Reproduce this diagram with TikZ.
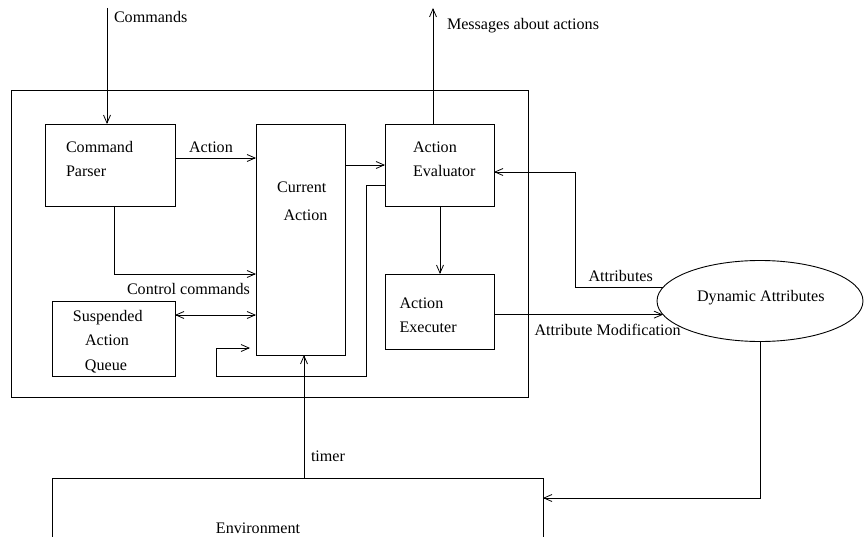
\documentclass[tikz,border=0pt]{standalone}
\usepackage{fontspec}
\setmainfont{Liberation Serif}
\usetikzlibrary{arrows.meta,shapes.geometric,calc}
\begin{document}
\begin{tikzpicture}[x=1pt,y=-1pt,line width=0.9pt,
  box/.style={draw,rectangle,inner sep=0pt,outer sep=0pt},
  lbl/.style={inner sep=0pt,outer sep=0pt,font=\fontsize{16.1}{19}\selectfont},
  arr/.style={-{Straight Barb[length=8pt,width=7pt,line width=0.8pt]}},
  darr/.style={{Straight Barb[length=8pt,width=7pt,line width=0.8pt]}-{Straight Barb[length=8pt,width=7pt,line width=0.8pt]}}]
\useasboundingbox (0,0) rectangle (866,537);
% boxes
\node[box,minimum width=517pt,minimum height=307pt] (outer) at (269.5,243.5) {};
\node[box,minimum width=130pt,minimum height=82pt] (CP) at (110,165) {};
\node[box,minimum width=89pt,minimum height=231pt] (CA) at (300.5,239.5) {};
\node[box,minimum width=109pt,minimum height=82pt] (AE) at (439.5,165) {};
\node[box,minimum width=109pt,minimum height=75pt] (AX) at (439.5,311.5) {};
\node[box,minimum width=123pt,minimum height=75pt] (SQ) at (113.5,338.5) {};
\node[draw,ellipse,inner sep=0pt,outer sep=0pt,minimum width=206pt,minimum height=81pt] (DA) at (760,301) {};
\coordinate (envSW) at (52,537);
\coordinate (envNW) at (52,478);
\coordinate (envNE) at (543,478);
\coordinate (envSE) at (543,537);
\draw (envSW) -- (envNW) -- (envNE) -- (envSE);
% texts
\node[lbl,anchor=base west] (tCmds) at (114,22.5) {Commands};
\node[lbl,anchor=base west] (tMsg) at (447,29.3) {Messages about actions};
\node[lbl,anchor=base west] (tCP1) at (66,152.5) {Command};
\node[lbl,anchor=base west] (tCP2) at (66,176.5) {Parser};
\node[lbl,anchor=base west] (tAct) at (189,152.5) {Action};
\node[lbl,anchor=base] (tCA1) at (301.7,192.7) {Current};
\node[lbl,anchor=base] (tCA2) at (305.5,220) {Action};
\node[lbl,anchor=base west] (tAE1) at (413,152.7) {Action};
\node[lbl,anchor=base west] (tAE2) at (413,176.5) {Evaluator};
\node[lbl,anchor=base west] (tCtl) at (127,294.3) {Control commands};
\node[lbl,anchor=base] (tSQ1) at (107.8,321) {Suspended};
\node[lbl,anchor=base] (tSQ2) at (107,345.5) {Action};
\node[lbl,anchor=base] (tSQ3) at (106,370.5) {Queue};
\node[lbl,anchor=base west] (tAX1) at (399.5,308.3) {Action};
\node[lbl,anchor=base west] (tAX2) at (399.5,332.7) {Executer};
\node[lbl,anchor=base west] (tAttr) at (588.5,281) {Attributes};
\node[lbl,anchor=base west] (tMod) at (534.5,335) {Attribute Modification};
\node[lbl,anchor=base] (tDA) at (760.8,301) {Dynamic Attributes};
\node[lbl,anchor=base west] (tTimer) at (311,461) {timer};
\node[lbl,anchor=base] (tEnv) at (258,533.7) {Environment};
% connectors
\coordinate (cmdTop) at (107,8);
\coordinate (msgTop) at (433,8);
\draw[arr] (cmdTop) -- (cmdTop |- CP.north);
\draw[arr] (msgTop |- AE.north) -- (msgTop);
\draw[arr] (CP.east |- 0,158) -- (CA.west |- 0,158);
\draw[arr] (CA.east |- 0,165) -- (AE.west |- 0,165);
\draw[arr] (AE.west |- 0,185) -- (366,185) -- (366,376) -- (216,376) -- (216,348) -- ($(CA.west |- 0,348)+(-6,0)$);
\draw[arr] (CP.south -| 114,0) -- (114,274) -- (CA.west |- 0,274);
\draw[darr] (SQ.east |- 0,315) -- (CA.west |- 0,315);
\draw[arr] (AE.south -| 440,0) -- (AX.north -| 440,0);
\draw[arr] (AX.east |- DA.188) -- (DA.188);
\draw[arr] (DA.172) -- (575,0 |- DA.172) -- (575,172) -- (AE.east |- 0,172);
\draw[arr] (DA.south) -- (DA.south |- 0,498) -- (envNE |- 0,498);
\draw[arr] (envNW -| 304,0) -- (CA.south -| 304,0);
\end{tikzpicture}
\end{document}
